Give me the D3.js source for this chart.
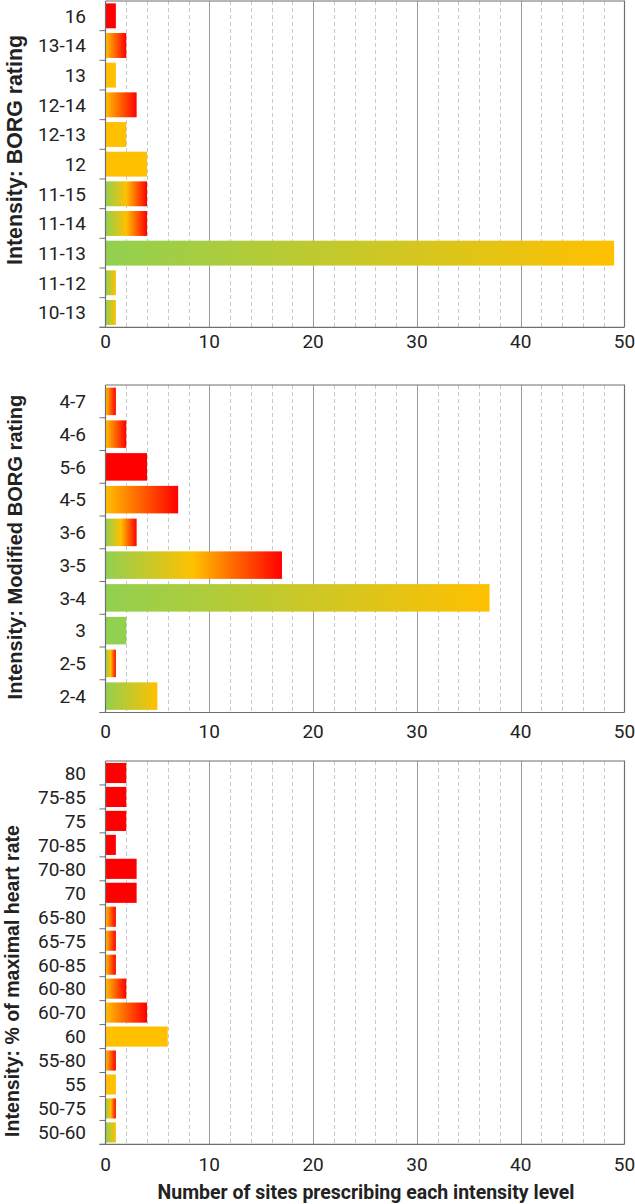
<!DOCTYPE html>
<html>
<head>
<meta charset="utf-8">
<script src="https://cdn.jsdelivr.net/npm/d3@7"></script>
<style>
  body { margin: 0; background: #fff; }
  svg text { font-family: Roboto, "Noto Sans", sans-serif; fill: #222; }
</style>
</head>
<body>
<div id="chart"></div>
<script>
// --- data, top to bottom as drawn ---
const borgCats = ["16", "13-14", "13", "12-14", "12-13", "12", "11-15", "11-14", "11-13", "11-12", "10-13"];
const borgVals = [1, 2, 1, 3, 2, 4, 4, 4, 49, 1, 1];
const borgTones = [["R"], ["A","R"], ["A"], ["A","R"], ["A"], ["A"], ["G","A","R"], ["G","A","R"], ["G","A"], ["G","A"], ["G","A"]];

const modCats = ["4-7", "4-6", "5-6", "4-5", "3-6", "3-5", "3-4", "3", "2-5", "2-4"];
const modVals = [1, 2, 4, 7, 3, 17, 37, 2, 1, 5];
const modTones = [["A","R"], ["A","R"], ["R"], ["A","R"], ["G","A","R"], ["G","A","R"], ["G","A"], ["G"], ["G","A","R"], ["G","A"]];

const hrCats = ["80", "75-85", "75", "70-85", "70-80", "70", "65-80", "65-75", "60-85", "60-80", "60-70", "60", "55-80", "55", "50-75", "50-60"];
const hrVals = [2, 2, 2, 1, 3, 3, 1, 1, 1, 2, 4, 6, 1, 1, 1, 1];
const hrTones = [["R"], ["R"], ["R"], ["R"], ["R"], ["R"], ["A","R"], ["A","R"], ["A","R"], ["A","R"], ["A","R"], ["A"], ["A","R"], ["A"], ["G","A","R"], ["G","A"]];

const xTicks = [0, 10, 20, 30, 40, 50];
const xTitle = "Number of sites prescribing each intensity level";

const toneColor = { G: "#92d050", A: "#ffc000", R: "#ff0000" };

const W = 635, H = 1204;
const left = 105.5, right = 624.5;

const svg = d3.select("#chart").append("svg")
    .attr("width", W).attr("height", H);
const defs = svg.append("defs");

const x = d3.scaleLinear().domain([0, 50]).range([left, right]);

// scale a text's font size so it spans the wanted length
function fitText(sel, len) {
  const n = sel.node();
  const fs = +sel.attr("font-size");
  const cur = n.getComputedTextLength();
  sel.attr("font-size", fs * len / cur);
}

const panels = [
  { cats: borgCats, vals: borgVals, tones: borgTones, top: 1, bottom: 327.3, title: "Intensity: BORG rating", tcy: 150, tlen: 230, tx: 22, lab: 21 },
  { cats: modCats, vals: modVals, tones: modTones, top: 385, bottom: 712.5, title: "Intensity: Modified BORG rating", tcy: 547, tlen: 305, tx: 22, lab: 25 },
  { cats: hrCats, vals: hrVals, tones: hrTones, top: 761, bottom: 1144.4, title: "Intensity: % of maximal heart rate", tcy: 981, tlen: 312, tx: 19, lab: 27 }
];

let gid = 0;
panels.forEach(function(p) {
  const y = d3.scaleBand().domain(p.cats).range([p.top, p.bottom])
      .paddingInner(0.16).paddingOuter(0.08);
  const g = svg.append("g");

  // grid
  const minor = d3.range(2, 50, 2).filter(d => d % 10 !== 0);
  g.selectAll(".minor").data(minor).enter().append("line")
      .attr("x1", d => Math.round(x(d)) + 0.5).attr("x2", d => Math.round(x(d)) + 0.5)
      .attr("y1", p.top).attr("y2", p.bottom)
      .attr("stroke", "#c8c8c8").attr("stroke-dasharray", "4,3");
  g.selectAll(".major").data([10, 20, 30, 40]).enter().append("line")
      .attr("x1", d => Math.round(x(d)) + 0.5).attr("x2", d => Math.round(x(d)) + 0.5)
      .attr("y1", p.top).attr("y2", p.bottom)
      .attr("stroke", "#9a9a9a");

  // bars
  g.selectAll(".bar").data(p.cats).enter().append("rect")
      .attr("x", x(0))
      .attr("y", d => y(d))
      .attr("height", y.bandwidth())
      .attr("width", (d, i) => x(p.vals[i]) - x(0))
      .attr("fill", function(d, i) {
        const t = p.tones[i];
        if (t.length === 1) return toneColor[t[0]];
        const id = "grad" + (gid++);
        const lg = defs.append("linearGradient").attr("id", id)
            .attr("x1", 0).attr("x2", 1).attr("y1", 0).attr("y2", 0);
        t.forEach(function(c, k) {
          lg.append("stop").attr("offset", k / (t.length - 1))
              .attr("stop-color", toneColor[c]);
        });
        return "url(#" + id + ")";
      });

  // frame (top + right)
  g.append("path")
      .attr("d", "M" + left + "," + p.top + "H" + right + "V" + p.bottom)
      .attr("fill", "none").attr("stroke", "#707070").attr("stroke-width", 1.2);

  // y axis, ticks at band boundaries
  const step = y.step();
  g.selectAll(".ytick").data(d3.range(1, p.cats.length + 1)).enter().append("line")
      .attr("x1", left - 6).attr("x2", left)
      .attr("y1", i => p.top + i * step).attr("y2", i => p.top + i * step)
      .attr("stroke", "#707070");
  g.append("line").attr("x1", left).attr("x2", left)
      .attr("y1", p.top).attr("y2", p.bottom)
      .attr("stroke", "#707070").attr("stroke-width", 1.2);
  g.append("line").attr("x1", left - 6).attr("x2", right)
      .attr("y1", p.bottom).attr("y2", p.bottom)
      .attr("stroke", "#707070").attr("stroke-width", 1.2);

  g.selectAll(".ylab").data(p.cats).enter().append("text")
      .attr("x", 86)
      .attr("y", d => y(d) + y.bandwidth() / 2)
      .attr("dy", "0.36em")
      .attr("text-anchor", "end")
      .attr("font-size", 19)
      .text(d => d);

  // x tick labels
  g.selectAll(".xlab").data(xTicks).enter().append("text")
      .attr("x", d => x(d))
      .attr("y", p.bottom + p.lab)
      .attr("text-anchor", "middle")
      .attr("font-size", 19)
      .text(d => d);

  // y title
  const t = g.append("text")
      .attr("transform", "translate(" + p.tx + "," + p.tcy + ") rotate(-90)")
      .attr("text-anchor", "middle")
      .attr("font-size", 20)
      .attr("font-weight", "bold")
      .style("font-family", "'Liberation Sans', Arial, sans-serif")
      .text(p.title);
  fitText(t, p.tlen);
});

const xt = svg.append("text")
    .attr("x", 366)
    .attr("y", 1199)
    .attr("text-anchor", "middle")
    .attr("font-size", 19)
    .attr("font-weight", "bold")
    .text(xTitle);
fitText(xt, 417);
</script>
</body>
</html>
